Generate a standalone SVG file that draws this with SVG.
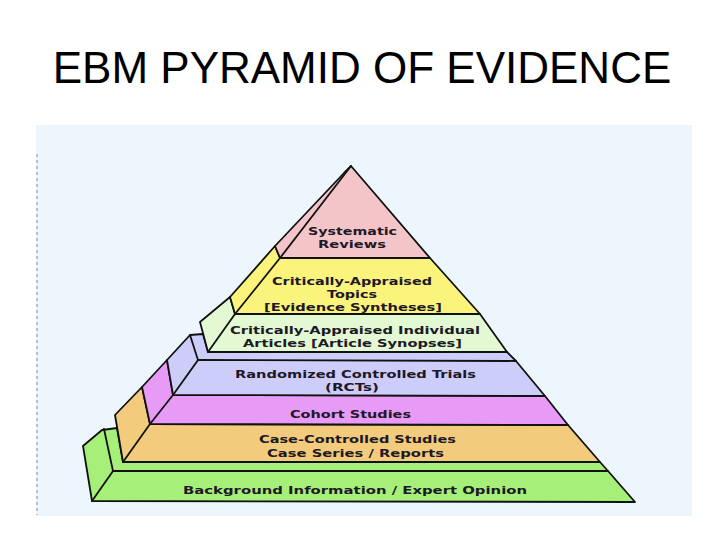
<svg xmlns="http://www.w3.org/2000/svg" width="728" height="546" viewBox="0 0 728 546">
<style>
.t{font-family:"DejaVu Sans","Liberation Sans",sans-serif;font-weight:bold;font-size:10.5px;fill:#1e1826;text-anchor:middle}
.tier{stroke:#111;stroke-width:1.8;stroke-linejoin:round}
.ln{stroke:#111;stroke-width:1.8;fill:none;stroke-linecap:round}
</style>
<rect width="728" height="546" fill="#ffffff"/>
<text x="362" y="83" font-family="Liberation Sans, Arial, sans-serif" font-size="44" fill="#000" text-anchor="middle">EBM PYRAMID OF EVIDENCE</text>
<rect x="36" y="125" width="656" height="391" fill="#eef6fd"/>
<line x1="37" y1="154" x2="37" y2="515" stroke="#8a8a8a" stroke-width="1" stroke-dasharray="3,3"/>

<g id="tier-background">
<polygon class="tier" fill="#a6f07a" points="92,501 83,446 102,430 117,428 123,462 600,462 608,471 635,502"/>
<polyline class="ln" points="104,429 113,471 92,501"/>
<line class="ln" x1="113" y1="471" x2="608" y2="471"/>
<text class="t" x="355" y="494" textLength="344" lengthAdjust="spacingAndGlyphs">Background Information / Expert Opinion</text>
</g>

<g id="tier-case-controlled">
<polygon class="tier" fill="#f2cc7c" points="123,462 115,415 142,387 150,424 568,425 600,462"/>
<line class="ln" x1="150" y1="424" x2="123" y2="462"/>
<text class="t" x="357.5" y="443" textLength="197" lengthAdjust="spacingAndGlyphs">Case-Controlled Studies</text>
<text class="t" x="355.5" y="456.5" textLength="177" lengthAdjust="spacingAndGlyphs">Case Series / Reports</text>
</g>

<g id="tier-cohort">
<polygon class="tier" fill="#e89bf6" points="142,387 167,360 173,395 545,396 568,425 150,424"/>
<line class="ln" x1="173" y1="395" x2="150" y2="424"/>
<text class="t" x="350.5" y="417.5" textLength="121" lengthAdjust="spacingAndGlyphs">Cohort Studies</text>
</g>

<g id="tier-rct">
<polygon class="tier" fill="#cdcdf9" points="167,360 190,335 203,334 208,352 507,352 516,361 545,396 173,395"/>
<polyline class="ln" points="190,335 198,360 173,395"/>
<line class="ln" x1="198" y1="360" x2="516" y2="361"/>
<text class="t" x="355.5" y="377.5" textLength="241" lengthAdjust="spacingAndGlyphs">Randomized Controlled Trials</text>
<text class="t" x="352" y="390.5" textLength="54" lengthAdjust="spacingAndGlyphs">(RCTs)</text>
</g>

<g id="tier-articles">
<polygon class="tier" fill="#e2f9d4" points="230,297 235,314 480,314 507,352 208,352 200,322"/>
<line class="ln" x1="235" y1="314" x2="208" y2="352"/>
<text class="t" x="355" y="333.5" textLength="250" lengthAdjust="spacingAndGlyphs">Critically-Appraised Individual</text>
<text class="t" x="352.5" y="346.5" textLength="219" lengthAdjust="spacingAndGlyphs">Articles [Article Synopses]</text>
</g>

<g id="tier-topics">
<polygon class="tier" fill="#faf47c" points="275,246 280,258 430,258 480,314 235,314 230,297"/>
<line class="ln" x1="280" y1="258" x2="235" y2="314"/>
<text class="t" x="352" y="285" textLength="160" lengthAdjust="spacingAndGlyphs">Critically-Appraised</text>
<text class="t" x="352" y="297.5" textLength="50" lengthAdjust="spacingAndGlyphs">Topics</text>
<text class="t" x="353" y="310.5" textLength="178" lengthAdjust="spacingAndGlyphs">[Evidence Syntheses]</text>
</g>

<g id="tier-systematic">
<polygon class="tier" fill="#f3c5c9" points="351,166 430,258 280,258 275,246 344,173"/>
<line class="ln" x1="351" y1="166" x2="280" y2="258"/>
<text class="t" x="352.5" y="235" textLength="89" lengthAdjust="spacingAndGlyphs">Systematic</text>
<text class="t" x="352" y="248" textLength="68" lengthAdjust="spacingAndGlyphs">Reviews</text>
</g>

<g id="connectors"></g>
</svg>
